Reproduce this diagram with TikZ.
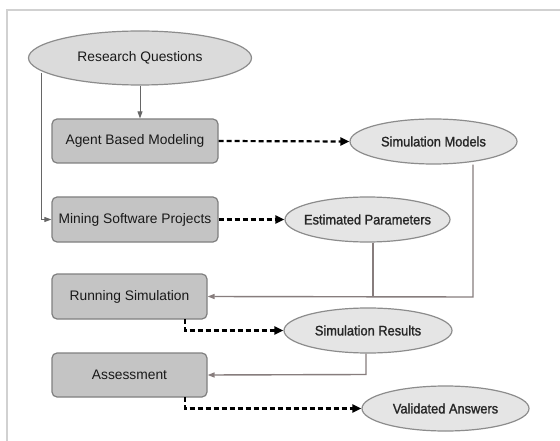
\documentclass[tikz,border=0pt]{standalone}
\usepackage{fontspec}
\setmainfont{Liberation Sans}
\newfontfamily\datafont[FakeStretch=0.93,FakeBold=1.3]{Liberation Sans}
\usetikzlibrary{arrows.meta,shapes.geometric}
\definecolor{feedgray}{RGB}{135,125,125}
\begin{document}
\begin{tikzpicture}[x=1pt,y=-1pt,
  font=\fontsize{13.8}{16}\selectfont,
  procbox/.style={draw=black!50, line width=1.2pt, fill=black!23, rounded corners=5pt,
    minimum height=44pt, inner sep=0pt, text=black!90},
  datanode/.style={ellipse, draw=black!45, line width=1.2pt, fill=black!10,
    minimum width=167pt, minimum height=45pt, inner sep=0pt, text=black!85,
    font=\fontsize{13.8}{16}\datafont},
  flow/.style={draw=black!60, line width=0.9pt, -{Triangle[length=7pt,width=5pt]}},
  feed/.style={draw=feedgray, line width=1.4pt, -{Triangle[length=7pt,width=5pt]}},
  produce/.style={draw=black, line width=2.2pt, dash pattern=on 5pt off 3pt,
    -{Triangle[length=9pt,width=8pt]}}]
  % page and frame
  \useasboundingbox (0,0) rectangle (560,441);
  \fill[white] (0,0) rectangle (560,441);
  \draw[black!18, line width=2pt] (7,441) -- (7,10) -- (560,10);

  % nodes
  \node[ellipse, draw=black!45, line width=1.2pt, fill=black!14, minimum width=223pt,
    minimum height=54pt, inner sep=0pt, text=black!90] (rq) at (140,58) {Research Questions};
  \node[procbox, minimum width=166pt] (abm) at (135,141) {Agent Based Modeling};
  \node[procbox, minimum width=166pt, minimum height=45pt] (msp) at (135,219.5) {Mining Software Projects};
  \node[procbox, minimum width=155pt, minimum height=45pt] (rs) at (129.5,296.5) {Running Simulation};
  \node[procbox, minimum width=155pt] (as) at (129.5,375) {Assessment};

  \node[datanode] (sm) at (433.5,141.5) {\makebox[0pt]{Simulation Models}};
  \node[datanode, minimum width=165pt] (ep) at (367.5,219.5) {\makebox[0pt]{Estimated Parameters}};
  \node[datanode, minimum width=168pt] (sr) at (368,330.5) {\makebox[0pt]{Simulation Results}};
  \node[datanode] (va) at (445.5,408.5) {\makebox[0pt]{Validated Answers}};

  % junction points of the feedback lines
  \coordinate (j1) at (473,297);
  \coordinate (j2) at (373,297);
  \coordinate (j3) at (366,374.5);

  % control flow
  \draw[flow] (rq.south -| abm.north) ++(5,0) -- ([xshift=5pt]abm.north);
  \draw[flow] (41,73) -- (41,219.5) -- (msp.west);

  % products
  \draw[produce] (abm.east) -- (sm.west);
  \draw[produce] (msp.east) -- (ep.west);
  \draw[produce] (185,319) -- (185,330.5) -- (sr.west);
  \draw[produce] (185,397) -- (185,408.5) -- (va.west);

  % feedback into the process steps
  \draw[feed] (sm.south -| j1) -- (j1) -- (rs.east);
  \draw[feed, -] (ep.south -| j2) -- (j2);
  \draw[feed] (sr.south -| j3) -- (j3) -- (as.east);
\end{tikzpicture}
\end{document}
